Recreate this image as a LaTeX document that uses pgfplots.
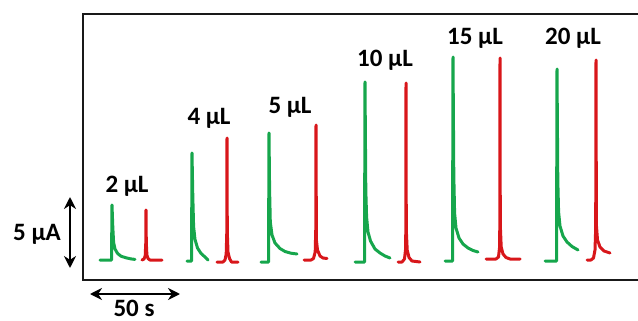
\documentclass[border=0pt]{standalone}
\usepackage{fontspec}
\setmainfont{Carlito}
\usepackage{pgfplots}
\pgfplotsset{compat=1.18}
\usetikzlibrary{arrows.meta}
\definecolor{cgreen}{RGB}{22,166,76}
\definecolor{cred}{RGB}{216,22,26}
\newcommand\lab{\bfseries\fontsize{12.5}{15}\selectfont}
\begin{document}
\begin{tikzpicture}
\begin{axis}[width=319pt,height=160.5pt,scale only axis,
  xmin=0,xmax=638,ymin=0,ymax=321,y dir=reverse,hide axis,clip=false,
  every axis plot/.append style={line width=1.5pt,line join=round,line cap=round}]
% frame
\draw[line width=1.4pt,black!90] (axis cs:638,14) -- (axis cs:83,14) -- (axis cs:83,280) -- (axis cs:638,280);
% 2 uL
\addplot[cgreen] coordinates {(100,260)(111.5,260)(112,205)(112.8,227)(113.6,242.4)(115,249)(117.5,253.4)(121,256.2)(126,257.8)(131,258.9)(135,259.4)};
\addplot[cred] coordinates {(142,260)(144,259)(145.2,256)(145.8,242.5)(146,210)(146.3,242.5)(146.9,255)(148,258.5)(150,260)(162,260)};
% 4 uL
\addplot[cgreen] coordinates {(187,261)(191.5,261)(192,153)(192.8,196)(193.6,226.5)(195,239.4)(197.5,248)(201,253.4)(205,257)(208,260)};
\addplot[cred] coordinates {(217,262)(223,262)(225,260)(226.2,254)(226.8,232)(227,138)(227.3,232)(228,252)(229.5,258.5)(231.5,262)(238,262)};
% 5 uL
\addplot[cgreen] coordinates {(261,262)(268.5,262)(269,133)(269.6,190)(270.3,222)(272,235)(275,243)(280,248.5)(285,251.5)(291,253.2)(297,254)};
\addplot[cred] coordinates {(304,260)(311,260)(313.5,258.5)(315.2,252)(315.8,228)(316,125)(316.4,240)(317.5,250)(320,256)(323,258)(327,258.5)};
% 10 uL
\addplot[cgreen] coordinates {(355,262)(364.5,262)(365,82)(365.8,190)(366.6,217)(368,232)(370.5,241)(375,249)(380,253)(385,256)(390,258)};
\addplot[cred] coordinates {(398,262)(402,262)(404.5,259)(405.5,250)(405.9,225)(406,83)(406.3,230)(407.2,250)(409,257.5)(412,261)(420,262)};
% 15 uL
\addplot[cgreen] coordinates {(445,261)(452.5,261)(453,57)(453.8,175)(454.6,213)(456,228)(459,238)(463,244)(468,248)(473,250.5)(478,252)};
\addplot[cred] coordinates {(486,259)(496,259)(498.5,257)(499.5,248)(499.9,220)(500,58)(500.3,225)(501.2,247)(503,254)(506,257.5)(510,259)(520,259)};
% 20 uL
\addplot[cgreen] coordinates {(545,261)(556.5,261)(557,69)(557.8,180)(558.6,212)(560,226)(563,236)(567,242)(572,246.5)(578,250)};
\addplot[cred] coordinates {(587,260)(591,260)(593.5,258)(595,250)(595.7,228)(596,60)(596.4,225)(597.5,240)(600,247)(604,251)(610,253)};
% labels
\node[anchor=base] at (axis cs:127,192) {\lab 2 μL};
\node[anchor=base] at (axis cs:209,124) {\lab 4 μL};
\node[anchor=base] at (axis cs:290,113) {\lab 5 μL};
\node[anchor=base] at (axis cs:385,67) {\lab 10 μL};
\node[anchor=base] at (axis cs:475,45) {\lab 15 μL};
\node[anchor=base] at (axis cs:573,45) {\lab 20 μL};
% scale bars
\draw[line width=1.4pt,{Stealth[length=6pt,width=6pt]}-{Stealth[length=6pt,width=6pt]}] (axis cs:70,197) -- (axis cs:70,268);
\draw[line width=1.4pt,{Stealth[length=6pt,width=6pt]}-{Stealth[length=6pt,width=6pt]}] (axis cs:90,294) -- (axis cs:180,294);
\node[anchor=base] at (axis cs:37,240) {\lab 5 μA};
\node[anchor=base] at (axis cs:134,316) {\lab 50 s};
\end{axis}
\pgfresetboundingbox
\path (current axis.south west) rectangle (current axis.north east);
\end{tikzpicture}
\end{document}
